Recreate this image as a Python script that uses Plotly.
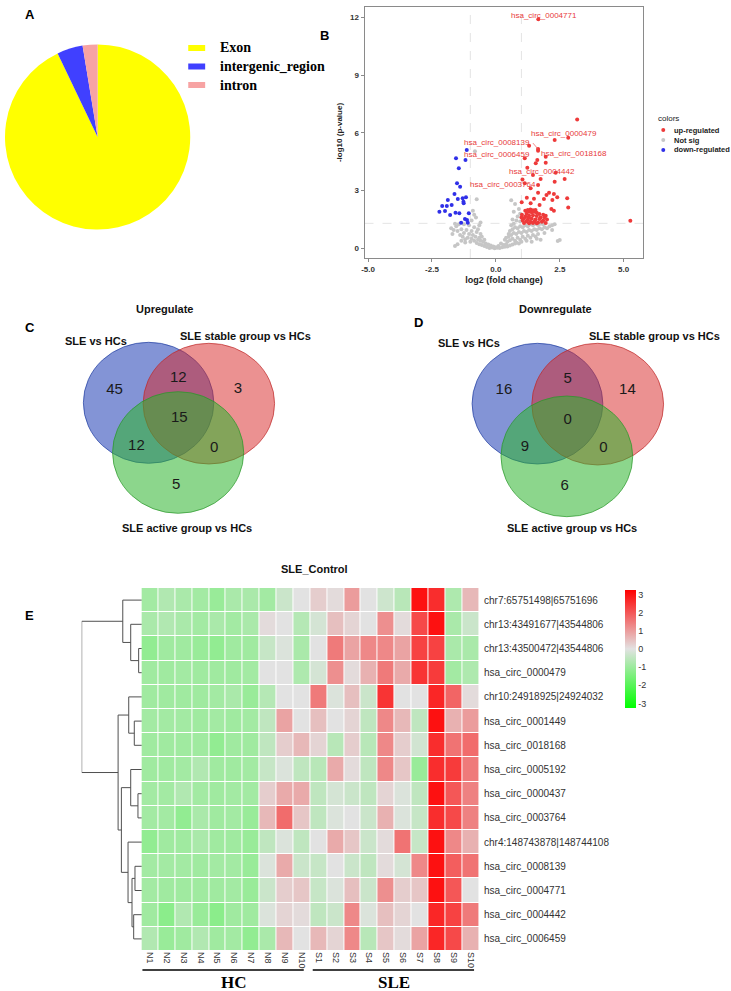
import plotly.graph_objects as go

W, H = 731, 991

# ---------------- DATA ----------------
# A: pie
pie_labels = ["Exon", "intergenic_region", "intron"]
pie_values = [92.9, 4.5, 2.6]
pie_colors = ["#FFFF00", "#4040FF", "#F7A3A3"]

# B: volcano (log2 fold change, -log10 p)
up_points = [
    (1.66, 11.9), (3.18, 6.7), (2.30, 5.63), (2.83, 5.75), (1.30, 5.33), (1.65, 5.16), (1.65, 5.07),
    (1.13, 4.68), (1.95, 4.76), (1.62, 4.59), (1.56, 4.42), (1.95, 4.45), (1.23, 4.19), (2.34, 3.93),
    (1.45, 3.81), (1.75, 3.60), (1.04, 3.58), (2.69, 3.60), (2.30, 3.46), (1.13, 3.38), (1.65, 3.29),
    (1.36, 3.12), (2.08, 2.89), (1.65, 2.89), (2.27, 2.82), (1.98, 2.77), (1.21, 2.63), (1.49, 2.58),
    (2.40, 2.65), (2.79, 2.60), (1.88, 2.56), (2.21, 2.51), (1.01, 2.39), (1.36, 2.34), (1.71, 2.25),
    (2.83, 2.13), (2.17, 2.04), (2.27, 1.96), (5.26, 1.44),
    (1.15, 1.95), (1.25, 2.00), (1.35, 2.02), (1.45, 1.98), (1.55, 2.00), (1.30, 1.90), (1.40, 1.88),
    (1.50, 1.90), (1.60, 1.85), (1.20, 1.80), (1.70, 1.78), (1.85, 1.75), (1.95, 1.70), (1.15, 1.65),
    (1.30, 1.70), (1.45, 1.72), (1.60, 1.68), (1.75, 1.60), (1.90, 1.62), (1.10, 1.55), (1.25, 1.50),
    (1.40, 1.55), (1.55, 1.50), (1.70, 1.52), (1.85, 1.45), (1.20, 1.40), (1.35, 1.38), (1.50, 1.40),
    (1.65, 1.35), (1.80, 1.38), (1.10, 1.32), (1.30, 1.30), (1.45, 1.32), (1.60, 1.30), (1.95, 1.32),
    (2.00, 1.50), (1.05, 1.45), (1.00, 1.60), (1.02, 1.75), (1.28, 1.60),
]
down_points = [
    (-1.14, 5.11), (-1.56, 4.68), (-1.19, 4.59), (-1.45, 4.16), (-1.52, 3.38), (-1.40, 3.20),
    (-1.62, 2.82), (-1.49, 2.56), (-1.30, 2.60), (-1.17, 2.65), (-1.27, 2.42), (-1.88, 2.51),
    (-2.10, 2.20), (-1.92, 2.20), (-1.73, 2.25), (-1.26, 2.34), (-1.99, 1.94), (-2.21, 1.90),
    (-1.79, 1.73), (-1.58, 1.85), (-1.43, 1.82), (-1.06, 1.82), (-1.21, 1.52), (-1.13, 1.47),
    (-1.36, 1.33), (-1.10, 1.33),
]
ns_points = [
    (-0.25, 0.02), (-0.15, 0.05), (-0.05, 0.01), (0.05, 0.03), (0.15, 0.02), (0.25, 0.06), (0.35, 0.08),
    (-0.35, 0.07), (-0.45, 0.12), (0.45, 0.10), (0.55, 0.15), (-0.55, 0.18), (0.65, 0.20), (-0.65, 0.22),
    (0.10, 0.12), (-0.10, 0.10), (0.30, 0.18), (-0.30, 0.20), (0.75, 0.25), (-0.75, 0.28), (0.20, 0.25),
    (-0.20, 0.15), (0.00, 0.06), (0.40, 0.22), (-0.40, 0.25), (-1.60, 0.12), (-1.50, 0.22), (2.50, 0.43),
    (2.42, 0.38),
    (-0.50, 0.35), (-0.60, 0.40), (-0.70, 0.45), (-0.85, 0.40), (-0.95, 0.50), (-1.10, 0.55), (-1.20, 0.48),
    (-1.30, 0.60), (-0.80, 0.60), (-0.65, 0.55), (-0.90, 0.70), (-1.05, 0.75), (-1.25, 0.80), (-1.40, 0.70),
    (-1.50, 0.90), (-1.65, 0.95), (-1.75, 1.05), (-1.55, 1.15), (-1.35, 1.00), (-1.15, 0.95), (-0.95, 0.90),
    (-0.75, 0.85), (-0.60, 0.75), (-0.70, 1.00), (-0.85, 1.10), (-1.05, 1.20), (-1.25, 1.25), (-1.45, 1.25),
    (-1.60, 1.28), (-0.65, 1.20), (-0.55, 0.60), (-1.00, 0.35), (-1.20, 0.30), (-0.45, 0.45), (-1.35, 0.40),
    (-1.70, 0.75),
    (-0.75, 2.55), (-0.82, 5.05), (-0.90, 1.95), (-0.78, 1.60), (-0.95, 1.45), (-0.60, 1.35), (-0.85, 1.75),
    (0.45, 0.35), (0.55, 0.42), (0.65, 0.50), (0.75, 0.40), (0.85, 0.55), (0.95, 0.45), (1.05, 0.60),
    (1.15, 0.50), (1.25, 0.65), (1.35, 0.55), (1.45, 0.70), (1.55, 0.62), (1.65, 0.75), (1.75, 0.45),
    (0.50, 0.60), (0.60, 0.70), (0.70, 0.80), (0.80, 0.75), (0.90, 0.85), (1.00, 0.80), (1.10, 0.90),
    (1.20, 0.85), (1.30, 0.95), (1.40, 0.90), (1.50, 1.00), (1.60, 0.95), (1.70, 1.05), (1.80, 1.00),
    (1.90, 1.10), (2.00, 1.05), (2.10, 1.15), (2.20, 1.20), (2.30, 1.25), (0.55, 0.90), (0.65, 1.00),
    (0.75, 1.10), (0.85, 1.05), (0.95, 1.15), (1.05, 1.10), (1.15, 1.20), (1.25, 1.15), (1.35, 1.25),
    (1.45, 1.20), (1.55, 1.28), (1.65, 1.22), (1.75, 1.28), (1.85, 1.25), (0.60, 1.20), (0.70, 1.28),
    (0.40, 0.55), (0.50, 0.75), (1.00, 0.35), (1.20, 0.40), (1.40, 0.35), (0.80, 0.30), (1.60, 0.50),
    (1.90, 0.80), (2.20, 0.95), (0.35, 0.45), (0.90, 0.25),
    (0.60, 2.50), (0.75, 2.30), (0.90, 2.05), (0.85, 1.65), (0.95, 1.80), (0.70, 1.90), (0.95, 1.40),
    (0.80, 1.45), (0.65, 1.50),
]
label_names = ["hsa_circ_0004771", "hsa_circ_0000479", "hsa_circ_0008139", "hsa_circ_0006459",
               "hsa_circ_0018168", "hsa_circ_0004442", "hsa_circ_0003764"]
label_x = [1.88, 2.66, 0.03, 0.06, 3.05, 1.82, 0.26]
label_y = [12.09, 5.97, 5.50, 4.88, 4.94, 3.98, 3.32]
fc_cut = [-1, 1]
p_cut = 1.3

# C / D: Venn counts  (A only, AB, B only, ABC, AC, BC, C only)
set_names = ["SLE vs HCs", "SLE stable group vs HCs", "SLE active group vs HCs"]
up_counts = [45, 12, 3, 15, 12, 0, 5]
down_counts = [16, 5, 14, 0, 9, 0, 6]

# E: heatmap
heat_cols = ["N1", "N2", "N3", "N4", "N5", "N6", "N7", "N8", "N9", "N10",
             "S1", "S2", "S3", "S4", "S5", "S6", "S7", "S8", "S9", "S10"]
heat_rows = ["chr7:65751498|65751696", "chr13:43491677|43544806", "chr13:43500472|43544806",
             "hsa_circ_0000479", "chr10:24918925|24924032", "hsa_circ_0001449", "hsa_circ_0018168",
             "hsa_circ_0005192", "hsa_circ_0000437", "hsa_circ_0003764", "chr4:148743878|148744108",
             "hsa_circ_0008139", "hsa_circ_0004771", "hsa_circ_0004442", "hsa_circ_0006459"]
heat_values = [
    [-0.9, -0.7, -0.8, -0.9, -1.05, -0.8, -0.8, -0.9, -0.35, 0.0, 0.3, 0.1, 1.0, 0.0, -0.3, -0.6, 3.0, 2.6, -0.75, 0.6],
    [-0.8, -0.7, -0.8, -0.9, -0.8, -0.9, -0.8, 0.1, 0.0, -0.65, -0.2, 0.5, 0.2, 0.0, 1.2, 0.1, 2.2, 3.0, -0.8, -0.35],
    [-1.15, -0.95, -0.95, -1.05, -1.15, -0.95, -0.95, -0.4, -0.1, -0.8, 0.0, 1.5, 0.9, 1.3, 1.3, 0.9, 2.3, 2.3, -0.8, -0.8],
    [-0.95, -0.95, -0.9, -0.95, -0.95, -0.95, -0.9, 0.0, 0.0, -0.75, -0.2, 1.2, 0.1, 0.7, 1.5, 0.8, 2.5, 2.4, -0.9, -0.75],
    [-0.95, -0.95, -0.95, -0.95, -0.9, -0.8, -1.05, -0.65, 0.0, 0.0, 1.5, -0.1, 0.5, -0.35, 2.5, 0.0, 0.0, 2.7, 1.8, 0.1],
    [-0.9, -0.9, -0.9, -0.95, -0.9, -0.95, -0.9, -0.5, 0.9, 0.0, 0.5, 0.0, 0.2, -0.5, 1.3, 0.6, -0.5, 3.0, 0.7, 1.0],
    [-0.95, -0.95, -0.95, -0.95, -1.15, -0.95, -0.95, -0.5, 0.3, 0.6, 0.2, -0.6, 0.3, -0.6, 1.3, 0.3, -0.25, 2.6, 1.6, 1.7],
    [-0.95, -0.95, -0.9, -0.7, -0.95, -0.95, -0.9, -0.4, -0.1, -0.5, -0.6, 0.8, 0.1, -0.5, 1.3, 0.4, -1.05, 2.6, 2.4, 1.5],
    [-0.9, -0.9, -0.7, -0.9, -0.95, -0.9, -0.9, 0.3, 0.8, 0.8, -0.5, -0.2, -0.35, -0.5, 0.2, -0.1, -0.5, 3.0, 2.0, 1.4],
    [-0.9, -0.9, -1.15, -0.8, -0.95, -0.9, -1.05, 0.6, 1.7, 0.4, -0.5, -0.1, 0.0, -0.35, 0.7, -0.1, -0.4, 2.6, 2.2, 1.4],
    [-1.15, -0.95, -0.95, -0.8, -0.95, -0.95, -1.05, -0.5, -0.1, -0.5, 0.0, 0.8, 0.4, -0.35, 0.1, 1.6, -0.4, 3.0, 1.3, 0.7],
    [-0.9, -0.9, -0.9, -0.95, -0.9, -0.9, -1.05, -0.1, 0.8, -0.35, -0.4, 0.0, -0.35, -0.5, 0.1, -0.2, 1.3, 3.0, 1.9, 1.6],
    [-0.9, -0.95, -0.95, -0.95, -0.95, -0.9, -1.05, -0.35, 0.3, 0.4, -0.4, -0.1, 0.5, -0.35, 1.2, 0.3, 0.4, 3.0, 2.0, 0.0],
    [-0.95, -1.25, -0.7, -1.05, -1.25, -0.95, -0.95, -0.1, 0.2, 0.1, -0.5, -0.35, 1.3, -0.1, 0.5, 0.2, 0.0, 2.7, 2.3, 1.5],
    [-0.7, -1.05, -0.95, -0.7, -0.95, -0.9, -1.15, -0.8, 0.6, 0.0, 0.6, 0.2, 1.3, -0.6, 0.4, 0.1, 0.9, 2.7, 2.2, 0.7],
]
colorbar_ticks = [-3, -2, -1, 0, 1, 2, 3]
# row dendrogram: (left node, right node, height); leaves are 0..14, new clusters numbered from 15
row_linkage = [
    (2, 3, 0.33), (1, 15, 1.13), (0, 16, 1.93),
    (5, 6, 0.77), (4, 18, 1.33),
    (8, 9, 0.40), (7, 20, 1.13),
    (11, 12, 0.70), (13, 14, 0.83), (22, 23, 1.00), (10, 24, 1.40),
    (21, 25, 2.07), (19, 26, 2.40), (17, 27, 6.07),
]
group_names = ["HC", "SLE"]


# ---------------- helpers ----------------
def px(x):
    return x / W


def py(y):
    return 1 - y / H


ARIAL = "Arial, Liberation Sans, sans-serif"
TIMES = "Times New Roman, Liberation Serif, serif"

fig = go.Figure()
annotations = []
shapes = []


def ann(x, y, text, font, xanchor="center"):
    annotations.append(dict(x=px(x), y=py(y), xref="paper", yref="paper", text=text, showarrow=False,
                            xanchor=xanchor, yanchor="middle", font=font))


# ---------- A: pie ----------
fig.add_trace(go.Pie(labels=pie_labels, values=pie_values, marker=dict(colors=pie_colors, line=dict(width=0)),
                     textinfo="none", sort=False, direction="clockwise", rotation=0, showlegend=False,
                     hoverinfo="label+percent",
                     domain=dict(x=[px(2), px(188)], y=[py(230), py(44)])))
for i, (lab, col) in enumerate(zip(pie_labels, pie_colors)):
    yc = 48 + i * 18.5
    shapes.append(dict(type="rect", xref="paper", yref="paper", x0=px(186), x1=px(203),
                       y0=py(yc + 3), y1=py(yc - 3), fillcolor=col, line=dict(width=0)))
    ann(216, yc, "<b>%s</b>" % lab, dict(family=TIMES, size=14, color="black"), xanchor="left")

# ---------- B: volcano ----------
fig.add_trace(go.Scatter(x=[p[0] for p in ns_points], y=[p[1] for p in ns_points], mode="markers",
                         marker=dict(size=4, color="#C6C6C6"), showlegend=False, xaxis="x", yaxis="y"))
fig.add_trace(go.Scatter(x=[p[0] for p in down_points], y=[p[1] for p in down_points], mode="markers",
                         marker=dict(size=4, color="#3030E8"), showlegend=False, xaxis="x", yaxis="y"))
fig.add_trace(go.Scatter(x=[p[0] for p in up_points], y=[p[1] for p in up_points], mode="markers",
                         marker=dict(size=4, color="#EE3A3A"), showlegend=False, xaxis="x", yaxis="y"))
# connector for hsa_circ_0008139
fig.add_trace(go.Scatter(x=[1.45, 1.65], y=[5.47, 5.16], mode="lines", line=dict(color="#EE5555", width=0.7),
                         showlegend=False, hoverinfo="skip", xaxis="x", yaxis="y"))
for nm, lx, ly in zip(label_names, label_x, label_y):
    annotations.append(dict(x=lx, y=ly, xref="x", yref="y", text=nm, showarrow=False,
                            xanchor="center", yanchor="middle",
                            font=dict(family=ARIAL, size=8, color="#E83A3A")))
for v in fc_cut:
    shapes.append(dict(type="line", xref="x", yref="y domain", x0=v, x1=v, y0=0, y1=1,
                       line=dict(color="#D8D8D8", width=0.7, dash="dash"), layer="below"))
shapes.append(dict(type="line", xref="x domain", yref="y", x0=0, x1=1, y0=p_cut, y1=p_cut,
                   line=dict(color="#D8D8D8", width=0.7, dash="dash"), layer="below"))

# volcano legend (drawn in pixel overlay axis)
leg_cols = ["#EE3A3A", "#C6C6C6", "#3030E8"]
leg_names = ["up-regulated", "Not sig", "down-regulated"]
fig.add_trace(go.Scatter(x=[663, 663, 663], y=[130, 140, 150], mode="markers",
                         marker=dict(size=4, color=leg_cols), showlegend=False, hoverinfo="skip",
                         xaxis="x3", yaxis="y3"))
ann(656, 118, "colors", dict(family=ARIAL, size=8, color="#222"), xanchor="left")
for i, nm in enumerate(leg_names):
    ann(672, 130 + 10 * i, "<b>%s</b>" % nm, dict(family=ARIAL, size=7.5, color="#222"), xanchor="left")

# ---------- C / D: Venn ----------
venn_fill = ["rgba(30,60,180,0.55)", "rgba(215,35,35,0.50)", "rgba(45,180,45,0.55)"]
venn_line = ["rgba(30,60,160,0.7)", "rgba(190,40,40,0.7)", "rgba(40,150,40,0.7)"]
venn_panels = [
    dict(counts=up_counts, title="Upregulate", title_xy=(162, 309), letter="C", letter_xy=(27, 327),
         circles=[(80.7, 342.3, 211.7, 463.3), (140.7, 343.3, 272.7, 464.0), (110.0, 391.7, 241.7, 513.3)],
         pos=[(112, 390), (176, 378), (236, 389), (177, 418), (134, 446), (212, 448), (174, 485)],
         name_xy=[(93, 341), (243, 336), (185, 528)]),
    dict(counts=down_counts, title="Downregulate", title_xy=(555, 309), letter="D", letter_xy=(417, 322),
         circles=[(471.0, 343.3, 602.3, 464.0), (531.0, 343.3, 663.3, 465.0), (500.0, 396.0, 632.3, 516.7)],
         pos=[(503, 390), (567, 379), (627, 390), (567, 420), (524, 447), (603, 448), (564, 486)],
         name_xy=[(468, 343), (654, 336), (571, 528)]),
]
for vp in venn_panels:
    for (x0, y0, x1, y1), fc, lc in zip(vp["circles"], venn_fill, venn_line):
        shapes.append(dict(type="circle", xref="x3", yref="y3", x0=x0, x1=x1, y0=y0, y1=y1,
                           fillcolor=fc, line=dict(color=lc, width=1), layer="below"))
    fig.add_trace(go.Scatter(x=[p[0] for p in vp["pos"]], y=[p[1] for p in vp["pos"]], mode="text",
                             text=[str(c) for c in vp["counts"]],
                             textfont=dict(family=ARIAL, size=15, color="#1a1a1a"),
                             showlegend=False, hoverinfo="skip", xaxis="x3", yaxis="y3"))
    for nm, (nx, ny) in zip(set_names, vp["name_xy"]):
        ann(nx, ny, "<b>%s</b>" % nm, dict(family=ARIAL, size=11, color="#111"))
    ann(vp["title_xy"][0], vp["title_xy"][1], "<b>%s</b>" % vp["title"], dict(family=ARIAL, size=11, color="#111"))
    ann(vp["letter_xy"][0], vp["letter_xy"][1], "<b>%s</b>" % vp["letter"], dict(family=ARIAL, size=13, color="black"))

# ---------- E: heatmap ----------
fig.add_trace(go.Heatmap(z=heat_values, x=heat_cols, y=heat_rows, xaxis="x5", yaxis="y5",
                         colorscale=[[0, "#00FF00"], [0.5, "#E2E2E2"], [1, "#FF0000"]],
                         zmin=-3.25, zmax=3.25, xgap=1, ygap=1,
                         colorbar=dict(x=px(625), xanchor="left", y=py(649), yanchor="middle",
                                       lenmode="pixels", len=118, thickness=11, outlinewidth=0,
                                       tickvals=colorbar_ticks, ticktext=[str(t) for t in colorbar_ticks],
                                       ticks="",
                                       tickfont=dict(family=ARIAL, size=9, color="#333"), xpad=0, ypad=0)))

# dendrogram from linkage
pos = {i: float(i) for i in range(len(heat_rows))}
hgt = {i: 0.0 for i in range(len(heat_rows))}
dx, dy = [], []
for k, (a, b, h) in enumerate(row_linkage):
    node = len(heat_rows) + k
    dx += [hgt[a], h, h, hgt[b], None]
    dy += [pos[a], pos[a], pos[b], pos[b], None]
    pos[node] = (pos[a] + pos[b]) / 2
    hgt[node] = h
fig.add_trace(go.Scatter(x=dx, y=dy, mode="lines", line=dict(color="#505050", width=1),
                         showlegend=False, hoverinfo="skip", xaxis="x4", yaxis="y4"))

ann(27, 615, "<b>E</b>", dict(family=ARIAL, size=13, color="black"))
ann(313, 569, "<b>SLE_Control</b>", dict(family=ARIAL, size=11, color="#111"))
# group bars and labels
for (x0, x1, xc), g in zip([(140, 302, 232), (311, 473, 393)], group_names):
    shapes.append(dict(type="line", xref="paper", yref="paper", x0=px(x0), x1=px(x1), y0=py(970), y1=py(970),
                       line=dict(color="black", width=1.5)))
    ann(xc, 982, "<b>%s</b>" % g, dict(family=TIMES, size=17, color="black"))

# panel letters A, B
ann(27, 14, "<b>A</b>", dict(family=ARIAL, size=13, color="black"))
ann(323, 36, "<b>B</b>", dict(family=ARIAL, size=13, color="black"))

tickfont_b = dict(family=ARIAL, size=8, color="#333")
fig.update_layout(
    width=W, height=H, margin=dict(l=0, r=0, t=0, b=0),
    paper_bgcolor="white", plot_bgcolor="rgba(0,0,0,0)",
    showlegend=False,
    xaxis=dict(domain=[px(363), px(643)], range=[-5.14, 5.77], tickvals=[-5, -2.5, 0, 2.5, 5],
               ticktext=["<b>-5.0</b>", "<b>-2.5</b>", "<b>0.0</b>", "<b>2.5</b>", "<b>5.0</b>"],
               showgrid=False, zeroline=False, showline=True, mirror=True, linecolor="#8a8a8a", linewidth=1,
               ticks="outside", ticklen=3, tickcolor="#8a8a8a", tickfont=tickfont_b,
               title=dict(text="<b>log2 (fold change)</b>", font=dict(family=ARIAL, size=9, color="#222"),
                          standoff=4), anchor="y"),
    yaxis=dict(domain=[py(258), py(7)], range=[-0.5, 12.54], tickvals=[0, 3, 6, 9, 12],
               ticktext=["<b>0</b>", "<b>3</b>", "<b>6</b>", "<b>9</b>", "<b>12</b>"],
               showgrid=False, zeroline=False, showline=True, mirror=True, linecolor="#8a8a8a", linewidth=1,
               ticks="outside", ticklen=3, tickcolor="#8a8a8a", tickfont=tickfont_b,
               title=dict(text="<b>-log10 (p-value)</b>", font=dict(family=ARIAL, size=8, color="#222"),
                          standoff=6), anchor="x"),
    xaxis3=dict(domain=[0, 1], range=[0, W], visible=False, anchor="y3"),
    yaxis3=dict(domain=[0, 1], range=[H, 0], visible=False, anchor="x3"),
    xaxis4=dict(domain=[px(79), px(139.5)], range=[6.07, 0], visible=False, anchor="y4"),
    yaxis4=dict(domain=[py(951), py(588)], range=[14.5, -0.5], visible=False, anchor="x4"),
    xaxis5=dict(domain=[px(139), px(478)], showgrid=False, zeroline=False, ticks="", tickangle=90,
                tickfont=dict(family=ARIAL, size=9, color="#333"), anchor="y5"),
    yaxis5=dict(domain=[py(951), py(588)], autorange="reversed", side="right", showgrid=False,
                zeroline=False, ticks="", ticklabelstandoff=4,
                tickfont=dict(family=ARIAL, size=10, color="#333"), anchor="x5"),
    shapes=shapes, annotations=annotations,
)

fig.write_html("out.html", config={"displayModeBar": False},
               post_script="document.body.style.margin='0';")
